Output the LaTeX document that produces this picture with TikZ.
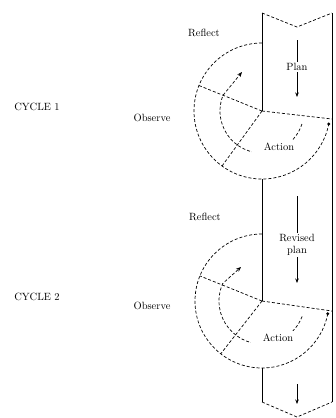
\documentclass[tikz,border=0pt]{standalone}
\usetikzlibrary{arrows.meta}

\begin{document}
\begin{tikzpicture}[
    x=1pt, y=-1pt,
    every node/.style={font=\fontsize{10.5}{12}\selectfont, inner sep=1pt},
    edge/.style={line width=0.7pt},
    cutline/.style={line width=0.7pt, dash pattern=on 3pt off 2pt},
    flow/.style={-{Stealth[length=4.5pt, width=3.5pt]}, line width=0.6pt},
    tag/.style={fill=white, align=center},
    actbox/.style={fill=white, minimum width=54pt, minimum height=15pt}
  ]
  \useasboundingbox (0,0) rectangle (336,418);

  % Strip corners
  \coordinate (tl) at (262,13);
  \coordinate (tr) at (332,13);
  \coordinate (notch) at (297,27);
  \coordinate (bl) at (262,402);
  \coordinate (br) at (332,402);
  \coordinate (tip) at (297,417);

  % Cycle centres
  \coordinate (c1) at (262,111);
  \coordinate (c2) at (262,301);
  \coordinate (b1) at (262,179);
  \coordinate (b2) at (262,368);
  \coordinate (r1) at (332,119);
  \coordinate (r2) at (332,311);

  % Strip
  \draw[edge] (tl) -- (c1);
  \draw[edge] (b1) -- (c2);
  \draw[edge] (b2) -- (bl);
  \draw[edge] (tr) -- (br);
  \draw[cutline] (tl) -- (notch) -- (tr);
  \draw[cutline] (bl) -- (tip) -- (br);

  % Cycle 1
  \coordinate (in1) at (242,72);
  \draw[cutline, -{Stealth[length=5pt, width=4pt]}] (c1) ++(18:42) arc[start angle=18, end angle=202, radius=42] -- (in1);
  \node[actbox] (act1) at (279,147) {Action};
  \draw[cutline] (c1) ++(-90:68) arc[start angle=-90, end angle=-349, radius=68];
  \draw[cutline] (c1) -- (r1);
  \draw[cutline] (c1) -- ++(-158:68);
  \draw[cutline] (c1) -- ++(126:68);
  \fill (c1) ++(-349:68) circle (1.6);

  \node (cyc1) at (37,107) {CYCLE 1};
  \node (refl1) at (204,33) {Reflect};
  \node (obs1) at (152,118) {Observe};
  \coordinate (p1s) at (297,40);
  \coordinate (p1e) at (297,97);
  \draw[flow] (p1s) -- (p1e);
  \node[tag] (plan1) at (297,67) {Plan};

  % Cycle 2
  \coordinate (in2) at (241,267);
  \draw[cutline, -{Stealth[length=5pt, width=4pt]}] (c2) ++(21:43) arc[start angle=21, end angle=204, radius=43] -- (in2);
  \node[actbox] (act2) at (278,338) {Action};
  \draw[cutline] (c2) ++(-90:67) arc[start angle=-90, end angle=-349, radius=67];
  \draw[cutline] (c2) -- (r2);
  \draw[cutline] (c2) -- ++(-158:67);
  \draw[cutline] (c2) -- ++(128:67);
  \fill (c2) ++(-349:67) circle (1.6);

  \node (cyc2) at (37,297) {CYCLE 2};
  \node (refl2) at (205,217) {Reflect};
  \node (obs2) at (152,306) {Observe};
  \coordinate (p2s) at (297,196);
  \coordinate (p2e) at (297,283);
  \draw[flow] (p2s) -- (p2e);
  \node[tag] (plan2) at (297,245) {Revised\\plan};

  % Out
  \coordinate (p3s) at (297,384);
  \coordinate (p3e) at (297,404);
  \draw[flow] (p3s) -- (p3e);
\end{tikzpicture}
\end{document}
